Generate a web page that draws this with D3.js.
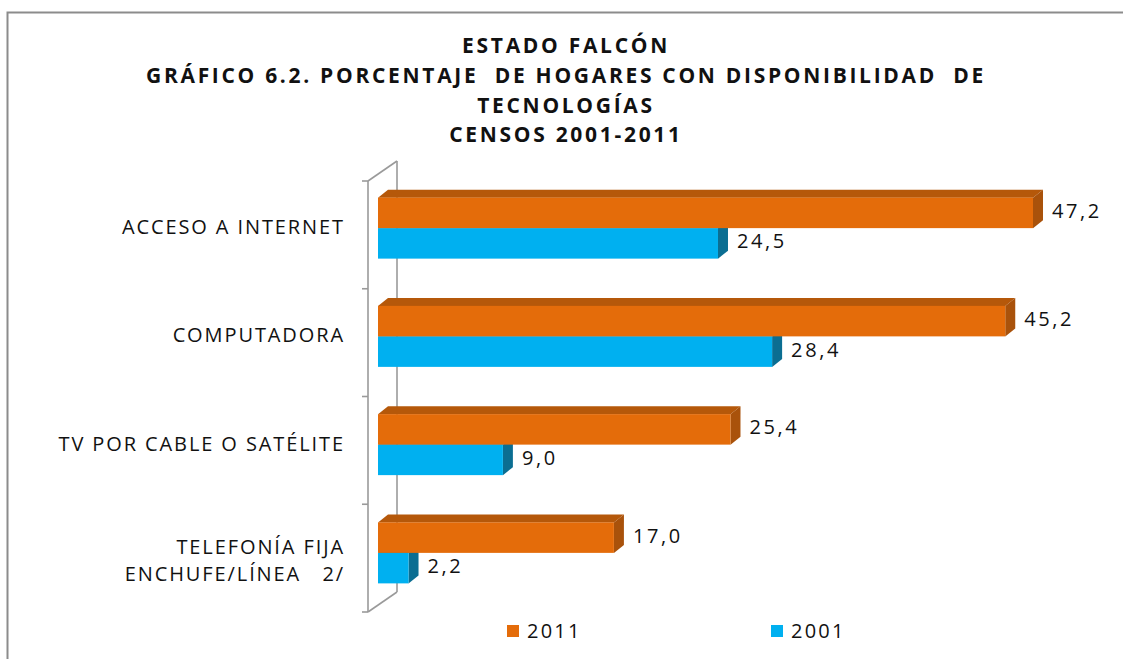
<!DOCTYPE html>
<html>
<head>
<meta charset="utf-8">
<title>Estado Falcón - Gráfico 6.2</title>
<style>
  html, body { margin:0; padding:0; background:#fff; }
  svg { display:block; }
  text { font-family: "Open Sans", Lato, sans-serif; fill:#111; }
</style>
<script src="https://d3js.org/d3.v7.min.js"></script>
</head>
<body>
<svg id="chart"></svg>
<script>
var width = 1123,
    height = 659;

// data
var categories = ["ACCESO A INTERNET", "COMPUTADORA", "TV POR CABLE O SATÉLITE", "TELEFONÍA FIJA\nENCHUFE/LÍNEA   2/"];
var series = ["2011", "2001"];
var values2011 = [47.2, 45.2, 25.4, 17.0];
var values2001 = [24.5, 28.4, 9.0, 2.2];
var titleLines = ["ESTADO FALCÓN", "GRÁFICO 6.2. PORCENTAJE  DE HOGARES CON DISPONIBILIDAD  DE", "TECNOLOGÍAS", "CENSOS 2001-2011"];

var colors = { "2011": "#E46C0A", "2001": "#00B0F0" };
var sideColors = { "2011": "#A9520B", "2001": "#0B6E92" };
var topColors = { "2011": "#B5580A", "2001": "#0A8CC0" };

var svg = d3.select("#chart")
    .attr("width", width)
    .attr("height", height);

// outer frame (only left/top visible in the crop)
svg.append("path")
    .attr("d", "M7.5," + (height + 5) + "V12.5H" + (width + 5))
    .attr("fill", "none")
    .attr("stroke", "#8c8c8c")
    .attr("stroke-width", 2);

// title
svg.append("g").selectAll("text")
    .data(titleLines)
    .enter().append("text")
    .attr("x", 566)
    .attr("y", function(d, i) { return 53 + i * 29.8; })
    .attr("text-anchor", "middle")
    .style("font-weight", "bold")
    .style("font-size", "21px")
    .style("letter-spacing", "2.7px")
    .style("white-space", "pre")
    .text(function(d) { return d; });

var x = d3.scaleLinear().domain([0, 47.2]).range([378, 1033]);
var y = d3.scaleBand().domain(categories).range([174, 607]);
var inner = d3.scaleBand().domain(series).range([0, 61]);

var dx = 10, dy = -8;           // bar depth
var wdx = 29, wdy = -20;        // wall depth
var wallTop = 181, wallBottom = 612, wallX = 368;

var axis = svg.append("g").attr("fill", "none").attr("stroke", "#9a9a9a").attr("stroke-width", 1.6);
// back edge of the wall
axis.append("line")
    .attr("x1", wallX + wdx).attr("x2", wallX + wdx)
    .attr("y1", wallTop + wdy).attr("y2", wallBottom + wdy);
// front edge
axis.append("line")
    .attr("x1", wallX).attr("x2", wallX)
    .attr("y1", wallTop).attr("y2", wallBottom);
axis.append("line")
    .attr("x1", wallX).attr("x2", wallX + wdx)
    .attr("y1", wallTop).attr("y2", wallTop + wdy);
axis.append("line")
    .attr("x1", wallX).attr("x2", wallX + wdx)
    .attr("y1", wallBottom).attr("y2", wallBottom + wdy);
// ticks between categories
var tickY = d3.range(categories.length + 1).map(function(i) {
  return wallTop + i * (wallBottom - wallTop) / categories.length;
});
axis.selectAll(".tick")
    .data(tickY)
    .enter().append("line")
    .attr("x1", wallX - 6).attr("x2", wallX)
    .attr("y1", function(d) { return d; })
    .attr("y2", function(d) { return d; });

// bars: 2001 drawn first so the 2011 bar covers its top face
var rows = [];
categories.forEach(function(c, i) {
  rows.push({ cat: c, s: "2001", v: values2001[i] });
  rows.push({ cat: c, s: "2011", v: values2011[i] });
});

var barH = inner.bandwidth();
var bars = svg.append("g").selectAll("g")
    .data(rows)
    .enter().append("g")
    .attr("transform", function(d) {
      var top = y(d.cat) + y.bandwidth() / 2 - 30.5 + inner(d.s);
      return "translate(0," + top + ")";
    });

// top face
bars.append("path")
    .attr("d", function(d) {
      var x0 = x(0), x1 = x(d.v);
      return "M" + x0 + ",0L" + (x0 + dx) + "," + dy + "L" + (x1 + dx) + "," + dy + "L" + x1 + ",0Z";
    })
    .attr("fill", function(d) { return topColors[d.s]; });

// side face
bars.append("path")
    .attr("d", function(d) {
      var x1 = x(d.v);
      return "M" + x1 + ",0L" + (x1 + dx) + "," + dy + "L" + (x1 + dx) + "," + (barH + dy) + "L" + x1 + "," + barH + "Z";
    })
    .attr("fill", function(d) { return sideColors[d.s]; });

// front face
bars.append("rect")
    .attr("x", x(0))
    .attr("y", 0)
    .attr("width", function(d) { return x(d.v) - x(0); })
    .attr("height", barH)
    .attr("fill", function(d) { return colors[d.s]; });

// value labels
bars.append("text")
    .attr("x", function(d) { return x(d.v) + dx + 9; })
    .attr("y", barH / 2 - 2)
    .attr("dy", "0.35em")
    .style("font-size", "20px")
    .style("letter-spacing", "2.6px")
    .text(function(d) { return d.v.toFixed(1).replace(".", ","); });

// category labels
var labels = svg.append("g").selectAll("text")
    .data(categories)
    .enter().append("text")
    .attr("x", 345)
    .attr("y", function(d) {
      var c = y(d) + y.bandwidth() / 2 - 1;
      return d.indexOf("\n") >= 0 ? c + 9 : c;
    })
    .attr("text-anchor", "end")
    .style("font-size", "20px")
    .style("letter-spacing", "1.9px")
    .style("white-space", "pre");

labels.each(function(d) {
  var lines = d.split("\n");
  var t = d3.select(this);
  lines.forEach(function(line, i) {
    t.append("tspan")
      .attr("x", 345)
      .attr("dy", i === 0 ? (0.35 - (lines.length - 1) * 0.675) + "em" : "1.35em")
      .text(line);
  });
});

// legend
var legendX = { "2011": 507, "2001": 771 };
var legend = svg.append("g").selectAll("g")
    .data(series)
    .enter().append("g")
    .attr("transform", function(d) { return "translate(" + legendX[d] + ",625)"; });
legend.append("rect")
    .attr("width", 12).attr("height", 12)
    .attr("fill", function(d) { return colors[d]; });
legend.append("text")
    .attr("x", 20).attr("y", 6)
    .attr("dy", "0.35em")
    .style("font-size", "20px")
    .style("letter-spacing", "2.2px")
    .text(function(d) { return d; });
</script>
</body>
</html>
